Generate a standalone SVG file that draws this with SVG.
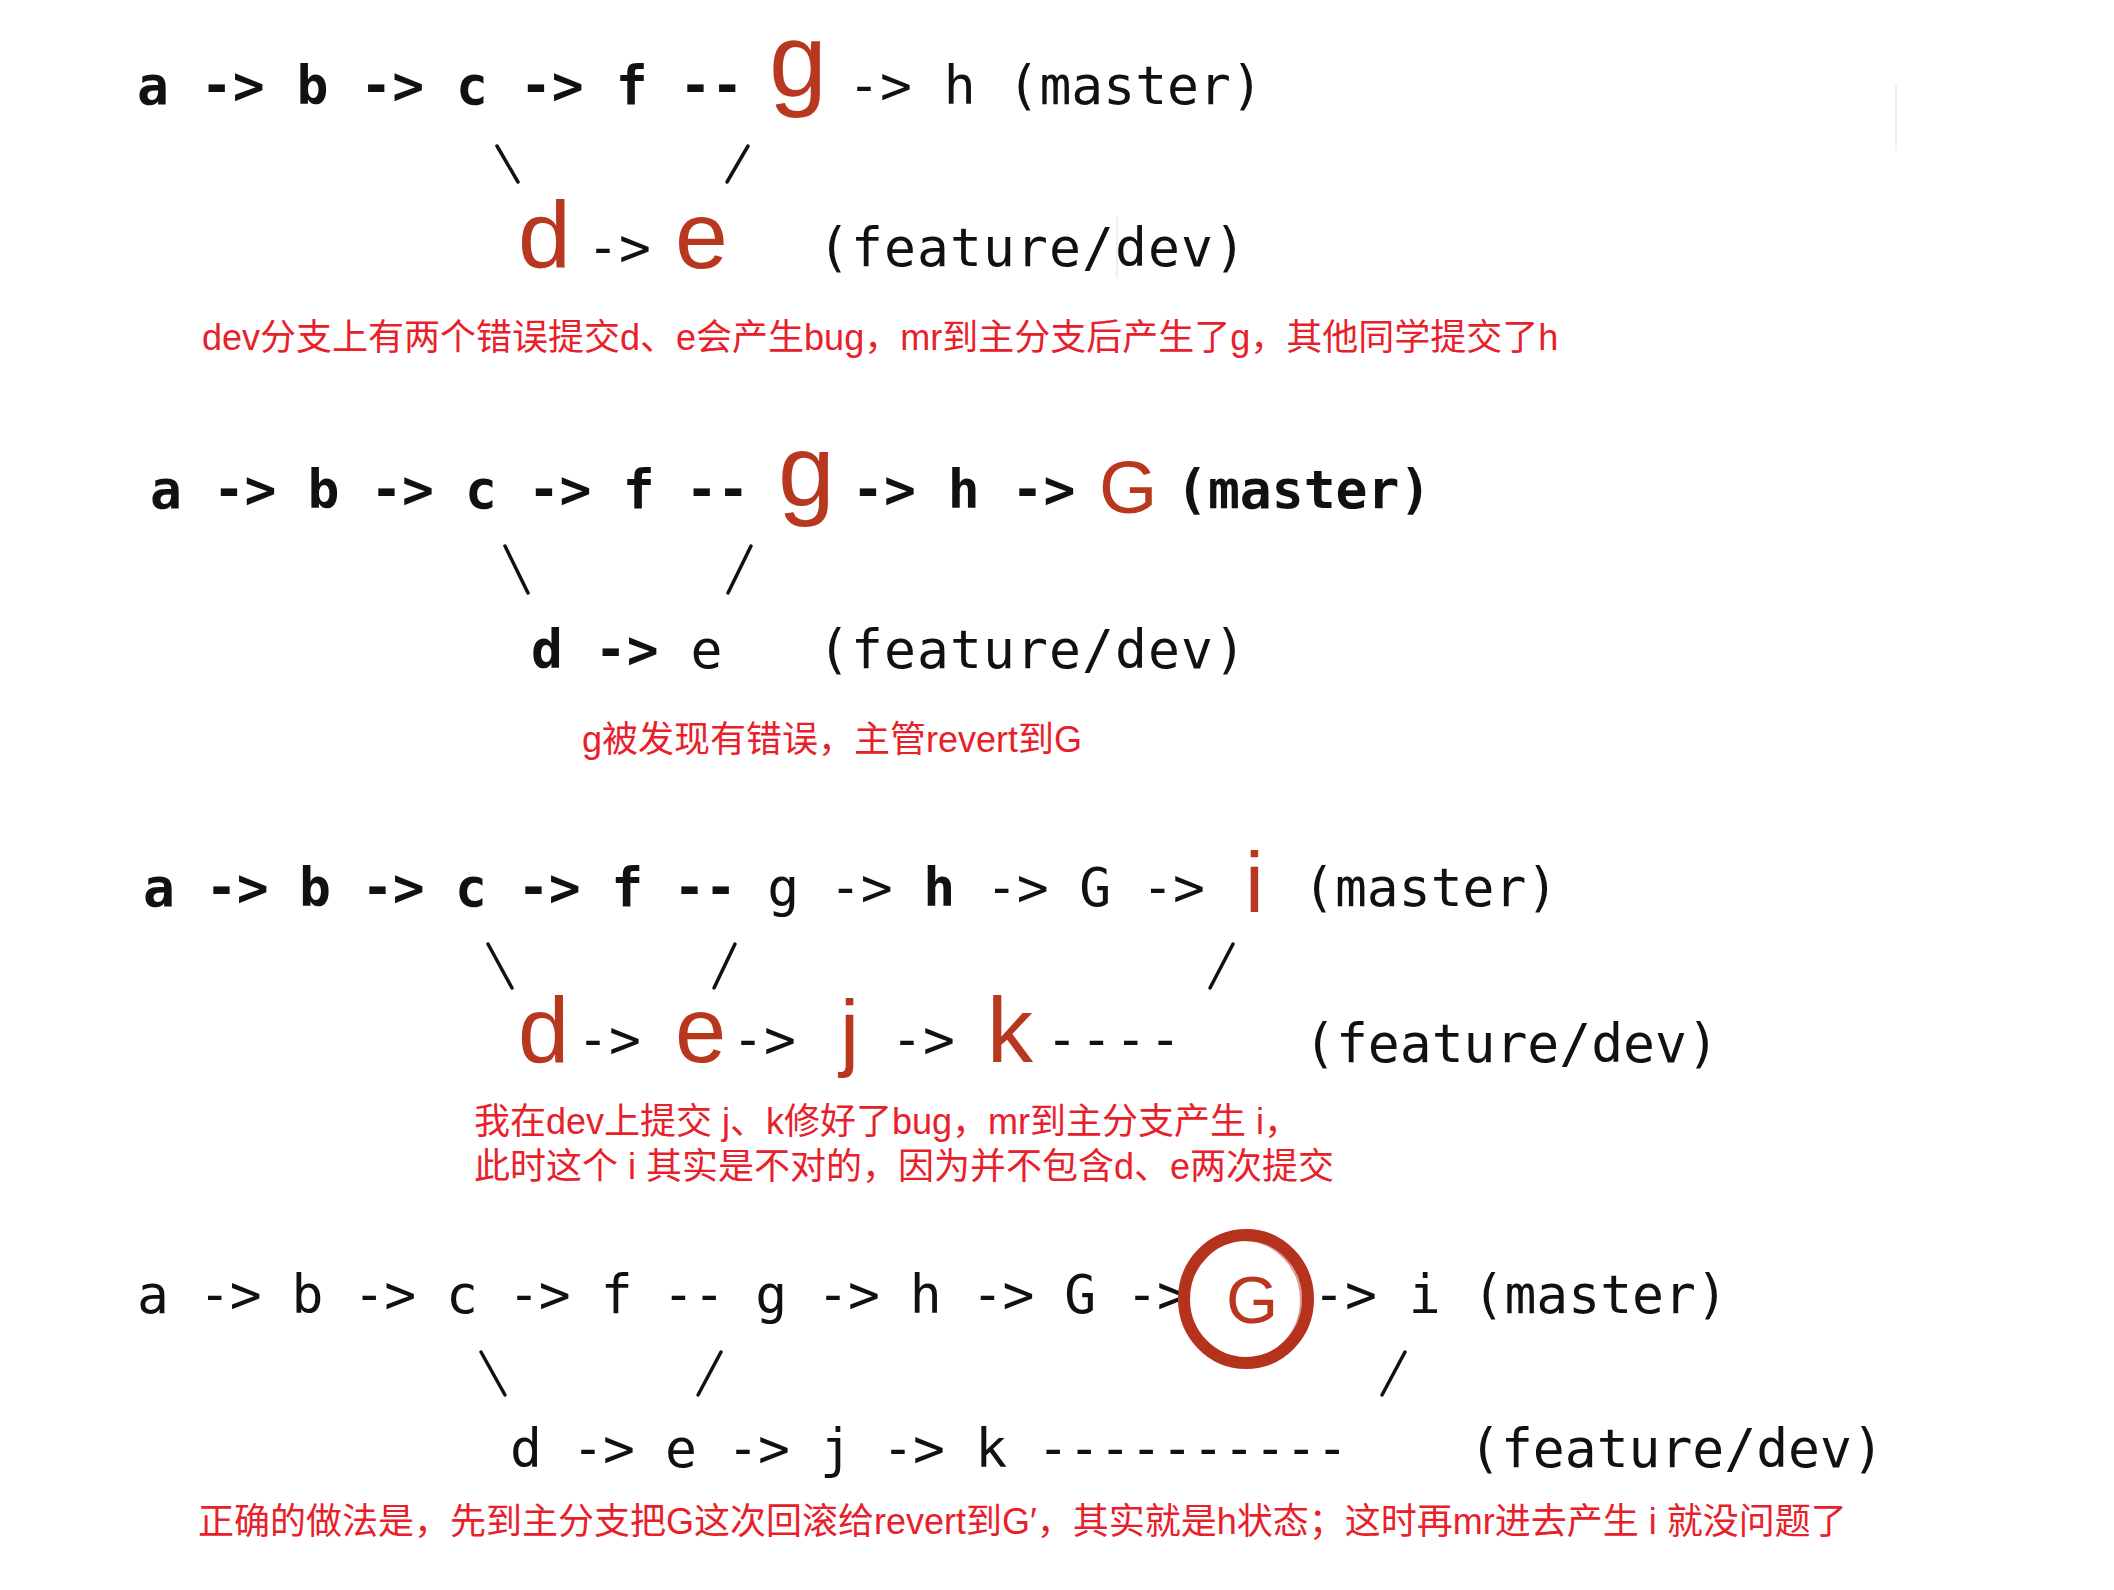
<svg xmlns="http://www.w3.org/2000/svg" width="2114" height="1590" viewBox="0 0 2114 1590">
<style>
.mono{font-family:"DejaVu Sans Mono","Liberation Mono",monospace;font-size:53px;fill:#111}
.b{font-weight:bold}
.red{font-family:"Liberation Sans",Arial,sans-serif;fill:#b8371f}
.cap{font-family:"Liberation Sans","Noto Sans CJK SC",sans-serif;font-size:36px;fill:#e8202a}
.slash{stroke:#111;stroke-width:3.5;stroke-linecap:round}
.faint{stroke:#f0f0f0;stroke-width:2}
</style>
<rect width="2114" height="1590" fill="#ffffff"/>

<g id="section1">
  <g id="s1-master">
    <text class="mono b" x="137" y="104">a -&gt; b -&gt; c -&gt; f --</text>
    <text class="red" x="769" y="96" font-size="104">g</text>
    <text class="mono" x="848" y="104">-&gt; h (master)</text>
  </g>
  <g id="s1-feature">
    <text class="red" x="518" y="268" font-size="95">d</text>
    <text class="mono" x="587" y="266">-&gt;</text>
    <text class="red" x="675" y="268" font-size="95">e</text>
    <text class="mono" x="818" y="266" font-size="55" letter-spacing="1.1">(feature/dev)</text>
  </g>
  <text id="s1-caption" class="cap" x="202" y="350" font-size="36.3">dev分支上有两个错误提交d、e会产生bug，mr到主分支后产生了g，其他同学提交了h</text>
</g>

<g id="section2">
  <g id="s2-master">
    <text class="mono b" x="150" y="508" letter-spacing="-0.4">a -&gt; b -&gt; c -&gt; f --</text>
    <text class="red" x="778" y="506" font-size="102">g</text>
    <text class="mono b" x="852" y="508">-&gt; h -&gt;</text>
    <text class="red" x="1099" y="513" font-size="75">G</text>
    <text class="mono b" x="1176" y="508">(master)</text>
  </g>
  <g id="s2-feature">
    <text class="mono" x="531" y="668"><tspan class="b">d -&gt;</tspan> e</text>
    <text class="mono" x="818" y="668" font-size="55" letter-spacing="1.1">(feature/dev)</text>
  </g>
  <text id="s2-caption" class="cap" x="582" y="752">g被发现有错误，主管revert到G</text>
</g>

<g id="section3">
  <g id="s3-master">
    <text class="mono" x="143" y="906" font-size="52" letter-spacing="-0.7"><tspan class="b">a -&gt; b -&gt; c -&gt; f --</tspan> g -&gt; <tspan class="b">h</tspan> -&gt; G -&gt;</text>
    <text class="red" x="1245" y="912" font-size="85">i</text>
    <text class="mono" x="1303" y="906" font-size="52">(master)</text>
  </g>
  <g id="s3-feature">
    <text class="red" x="518" y="1062" font-size="92">d</text>
    <text class="mono" x="577" y="1058">-&gt;</text>
    <text class="red" x="675" y="1062" font-size="92">e</text>
    <text class="mono" x="732" y="1058">-&gt;</text>
    <text class="red" x="840" y="1060" font-size="86">j</text>
    <text class="mono" x="891" y="1058">-&gt;</text>
    <text class="red" x="987" y="1062" font-size="92">k</text>
    <text class="mono" x="1046" y="1058" letter-spacing="2.5">----</text>
    <text class="mono" x="1304" y="1062" font-size="55">(feature/dev)</text>
  </g>
  <g id="s3-caption">
    <text class="cap" x="474" y="1134">我在dev上提交 j、k修好了bug，mr到主分支产生 i，</text>
    <text class="cap" x="474" y="1179">此时这个 i 其实是不对的，因为并不包含d、e两次提交</text>
  </g>
</g>

<g id="section4">
  <g id="s4-master">
    <text class="mono" x="137" y="1313" font-size="51.5" letter-spacing="-1">a -&gt; b -&gt; c -&gt; f -- g -&gt; h -&gt; G -&gt;</text>
    <ellipse cx="1246" cy="1299" rx="62" ry="64" fill="none" stroke="#b5321d" stroke-width="12"/>
    <ellipse cx="1243" cy="1300" rx="58" ry="60" fill="none" stroke="#b5321d" stroke-width="2" opacity="0.5"/>
    <text class="red" x="1226" y="1323" font-size="67">G</text>
    <text class="mono" x="1313" y="1313" font-size="51.5">-&gt; i (master)</text>
  </g>
  <g id="s4-feature">
    <text class="mono" x="510" y="1467" font-size="51.5" letter-spacing="-0.9">d -&gt; e -&gt; j -&gt; k ----------</text>
    <text class="mono" x="1469" y="1467" font-size="55">(feature/dev)</text>
  </g>
  <text id="s4-caption" class="cap" x="198" y="1534">正确的做法是，先到主分支把G这次回滚给revert到G′，其实就是h状态；这时再mr进去产生 i 就没问题了</text>
</g>

<g id="connectors">
  <line class="slash" x1="497" y1="146" x2="518" y2="182"/>
  <line class="slash" x1="748" y1="146" x2="727" y2="182"/>
  <line class="slash" x1="505" y1="546" x2="528" y2="593"/>
  <line class="slash" x1="751" y1="546" x2="728" y2="593"/>
  <line class="slash" x1="488" y1="944" x2="512" y2="988"/>
  <line class="slash" x1="735" y1="944" x2="714" y2="988"/>
  <line class="slash" x1="1233" y1="944" x2="1210" y2="988"/>
  <line class="slash" x1="481" y1="1352" x2="505" y2="1395"/>
  <line class="slash" x1="721" y1="1352" x2="698" y2="1395"/>
  <line class="slash" x1="1405" y1="1352" x2="1382" y2="1395"/>
</g>

<line class="faint" x1="1896" y1="85" x2="1896" y2="150"/>
<line class="faint" x1="1117" y1="216" x2="1117" y2="278"/>
</svg>
